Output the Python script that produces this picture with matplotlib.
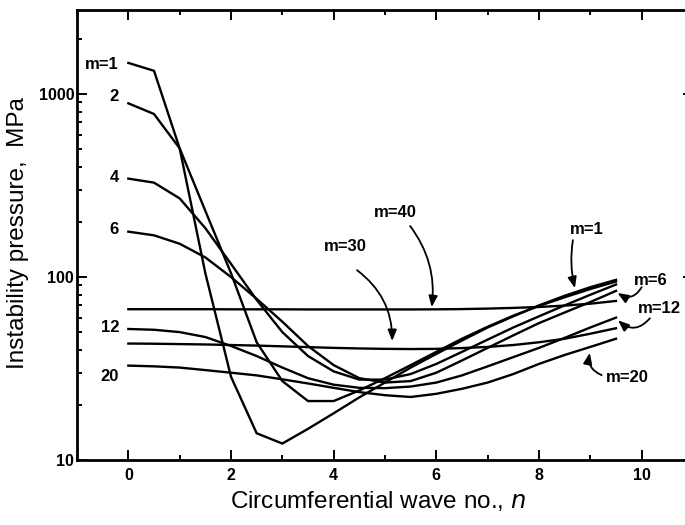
import matplotlib
matplotlib.use("Agg")
import matplotlib.pyplot as plt
from matplotlib.ticker import FixedLocator, LogLocator, NullFormatter, FixedFormatter

plt.rcParams['font.family'] = ['Liberation Sans', 'DejaVu Sans']

# circumferential wave number grid
n = [0, 0.5, 1, 1.5, 2, 2.5, 3, 3.5, 4, 4.5, 5, 5.5, 6, 6.5, 7, 7.5, 8, 8.5, 9, 9.5]

p_m1  = [1480, 1340, 505, 105, 28.5, 14, 12.3, 14.8, 18, 22, 26.5, 32, 38, 45, 53, 61, 70, 79, 88, 96.5]
p_m2  = [890, 778, 505, 230, 105, 44, 27, 21, 21, 24, 28, 33, 39, 46, 53.5, 61.5, 69.5, 77.5, 86, 94.5]
p_m4  = [345, 328, 269, 185, 118, 75, 50, 37, 30.5, 27.5, 27.5, 29.5, 33.5, 39, 45.5, 53, 61, 70, 80, 91]
p_m6  = [177, 169, 152, 128, 100, 76, 57, 42, 33, 28, 26.5, 27, 30, 35, 41, 48, 56, 64, 73, 84]
p_m12 = [52, 51.5, 50, 47, 42, 37, 32, 28, 25.8, 24.8, 24.7, 25.2, 26.5, 29, 32.5, 36.5, 41, 46.5, 53, 60]
p_m20 = [32.8, 32.5, 32, 31, 30, 29, 27.6, 26.2, 24.8, 23.5, 22.6, 22.1, 23, 24.5, 26.5, 29.5, 33.5, 37.5, 41.5, 46]
p_m30 = [43.3, 43.2, 43, 42.8, 42.5, 42.2, 41.8, 41.4, 41, 40.7, 40.5, 40.4, 40.5, 40.9, 41.5, 42.5, 44, 46, 49, 52.5]
p_m40 = [66.7, 66.7, 66.7, 66.7, 66.6, 66.6, 66.6, 66.5, 66.5, 66.5, 66.5, 66.5, 66.6, 66.8, 67.2, 67.8, 68.6, 69.8, 71.5, 74]

series = [p_m1, p_m2, p_m4, p_m6, p_m12, p_m20, p_m30, p_m40]

x_ticks = [0, 2, 4, 6, 8, 10]
x_minor = [-1, 1, 3, 5, 7, 9, 11]
y_ticks = [10, 100, 1000]
y_ticklabels = ['10', '100', '1000']

left_labels = [('m=1', 1459), ('2', 975), ('4', 352), ('6', 183), ('12', 53), ('20', 28.5)]

fig = plt.figure(figsize=(6.85, 5.25), dpi=100)
ax = fig.add_axes([77/685, 65/525, (693-77)/685, 450/525])

for p in series:
    ax.plot(n, p, color='black', lw=1.7, solid_joinstyle='miter')

ax.set_yscale('log')
ax.set_xlim(-1, 11)
ax.set_ylim(10, 2880)

ax.xaxis.set_major_locator(FixedLocator(x_ticks))
ax.xaxis.set_minor_locator(FixedLocator(x_minor))
ax.yaxis.set_major_locator(FixedLocator(y_ticks))
ax.yaxis.set_major_formatter(FixedFormatter(y_ticklabels))
ax.yaxis.set_minor_locator(LogLocator(base=10, subs=[2, 3, 4, 5, 6, 7, 8, 9]))
ax.yaxis.set_minor_formatter(NullFormatter())

ax.tick_params(which='both', direction='in', top=True, right=True, width=1.4)
ax.tick_params(which='major', length=7.5)
ax.tick_params(which='minor', length=3.5)
ax.tick_params(axis='x', which='major', pad=6, labelsize=11.5)
ax.tick_params(axis='y', which='major', pad=2, labelsize=11.5)
for lab in ax.get_xticklabels() + ax.get_yticklabels():
    lab.set_fontweight('bold')

for s in ax.spines.values():
    s.set_linewidth(2.0)

ax.set_xlabel('Circumferential wave no., $\\it{n}$', fontsize=17.5)
ax.set_ylabel('Instability pressure,  MPa', fontsize=17.5)
ax.xaxis.set_label_coords((378 - 77) / 616, -(501 - 460) / 450, transform=ax.transAxes)
ax.yaxis.set_label_coords((18 - 77) / 616, (460 - 233) / 450, transform=ax.transAxes)
ax.xaxis.label.set_va('center')
ax.yaxis.label.set_va('center')

for txt, yv in left_labels:
    ax.text(-0.18, yv, txt, ha='right', va='center', fontsize=12, fontweight='bold')

def arrow(tip, start, rad):
    ax.annotate('', xy=tip, xytext=start,
                arrowprops=dict(arrowstyle='-|>,head_length=0.55,head_width=0.22',
                                connectionstyle='arc3,rad=%g' % rad,
                                color='black', lw=1.3, shrinkA=0, shrinkB=0,
                                mutation_scale=12))

ax.text(5.21, 224, 'm=40', ha='center', va='center', fontsize=12, fontweight='bold')
arrow((5.91, 68.5), (5.49, 190), -0.2)
ax.text(4.22, 146, 'm=30', ha='center', va='center', fontsize=12, fontweight='bold')
arrow((5.14, 44.7), (4.455, 109), -0.25)
ax.text(8.93, 181, 'm=1', ha='center', va='center', fontsize=12, fontweight='bold')
arrow((8.70, 87), (8.66, 159), 0.1)
ax.text(10.18, 96, 'm=6', ha='center', va='center', fontsize=12, fontweight='bold')
arrow((9.53, 81.8), (10.0, 88), -0.5)
ax.text(10.35, 67.7, 'm=12', ha='center', va='center', fontsize=12, fontweight='bold')
arrow((9.54, 58), (10.16, 59.5), -0.5)
ax.text(9.73, 28.4, 'm=20', ha='center', va='center', fontsize=12, fontweight='bold')
arrow((8.99, 38.5), (9.22, 29.1), -0.4)

fig.savefig('out.png', dpi=100)
